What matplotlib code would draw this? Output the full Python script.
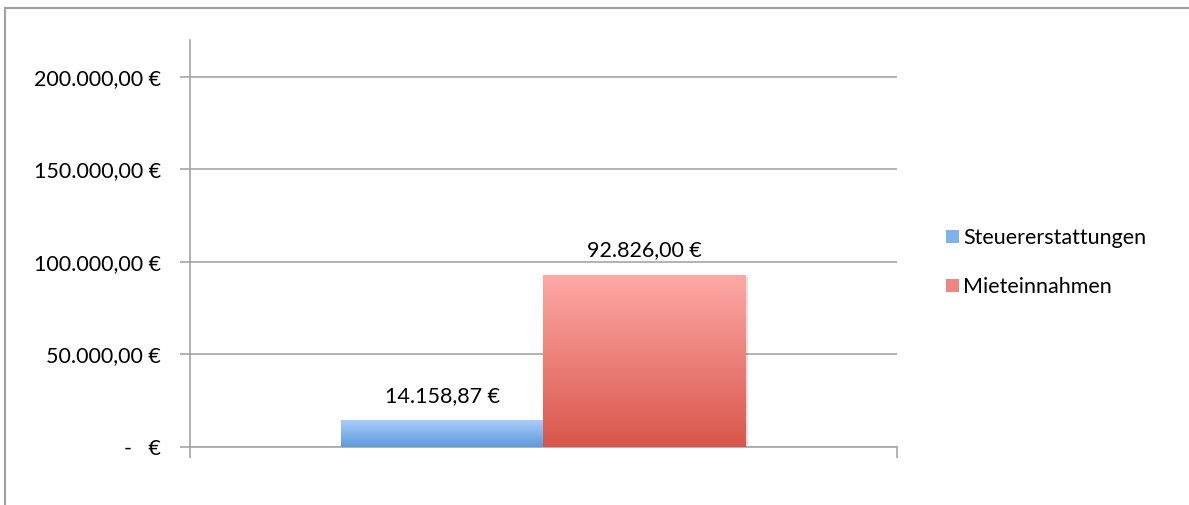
import numpy as np
import matplotlib.pyplot as plt
from matplotlib.patches import Rectangle, Patch
from matplotlib.colors import LinearSegmentedColormap

# Daten
series = ['Steuererstattungen', 'Mieteinnahmen']
values = [14158.87, 92826.00]
value_labels = ['14.158,87 €', '92.826,00 €']
yticks = [0, 50000, 100000, 150000, 200000]
ytick_labels = ['-   €', '50.000,00 €', '100.000,00 €', '150.000,00 €', '200.000,00 €']

# Farbverläufe (oben -> unten)
gradients = [('#aacdfb', '#5a9ad8'), ('#fea9a6', '#d9564b')]
legend_colors = ['#7fb2ea', '#ee8580']

plt.rcParams['font.family'] = ['Lato', 'DejaVu Sans']
grey = '#a6a6a6'
fs = 15.5

fig = plt.figure(figsize=(11.89, 5.05), dpi=100)
ax = fig.add_axes([0.1598, 0.1149, 0.5946, 0.8059])

bar_w = 0.286
xs = [0.5 - bar_w / 2, 0.5 + bar_w / 2]
bars = ax.bar(xs, values, width=bar_w, color='none', zorder=3)

for b, (top, bot), lab in zip(bars, gradients, value_labels):
    x0, w, h = b.get_x(), b.get_width(), b.get_height()
    # leichter Schatten
    ax.add_patch(Rectangle((x0 + 0.003, -1200), w, h, color='#000000', alpha=0.12, zorder=2, lw=0))
    cmap = LinearSegmentedColormap.from_list('g', [bot, top])
    grad = np.linspace(0, 1, 256).reshape(-1, 1)
    ax.imshow(grad, cmap=cmap, extent=(x0, x0 + w, 0, h), origin='lower',
              aspect='auto', zorder=3)
    ax.text(x0 + w / 2, h + 8000, lab, ha='center', va='bottom', fontsize=fs, color='black')

ax.set_xlim(0, 1)
ax.set_ylim(0, 220000)

ax.set_yticks(yticks)
ax.set_yticklabels(ytick_labels, fontsize=fs)
ax.set_xticks([0, 1])
ax.set_xticklabels(['', ''])
ax.tick_params(axis='y', length=7, width=1.2, color=grey, pad=14)
ax.tick_params(axis='x', length=8, width=1.2, color=grey)
ax.yaxis.grid(True, color=grey, lw=1.2, zorder=0)
ax.set_axisbelow(True)

for s in ['top', 'right']:
    ax.spines[s].set_visible(False)
for s in ['left', 'bottom']:
    ax.spines[s].set_color(grey)
    ax.spines[s].set_linewidth(1.2)

handles = [Patch(facecolor=c, edgecolor='none') for c in legend_colors]
fig.legend(handles, series, loc='center left', bbox_to_anchor=(0.779, 0.48),
           frameon=False, fontsize=fs, handlelength=0.6, handleheight=0.6,
           handletextpad=0.2, labelspacing=1.35)

# Rahmen ums Diagramm (rechts offen)
fig.patches.append(Rectangle((5 / 1189, -0.01), 1.2, 0.994, transform=fig.transFigure,
                             fill=False, edgecolor='#a0a0a0', lw=1.5))

fig.savefig('out.png', dpi=100)
